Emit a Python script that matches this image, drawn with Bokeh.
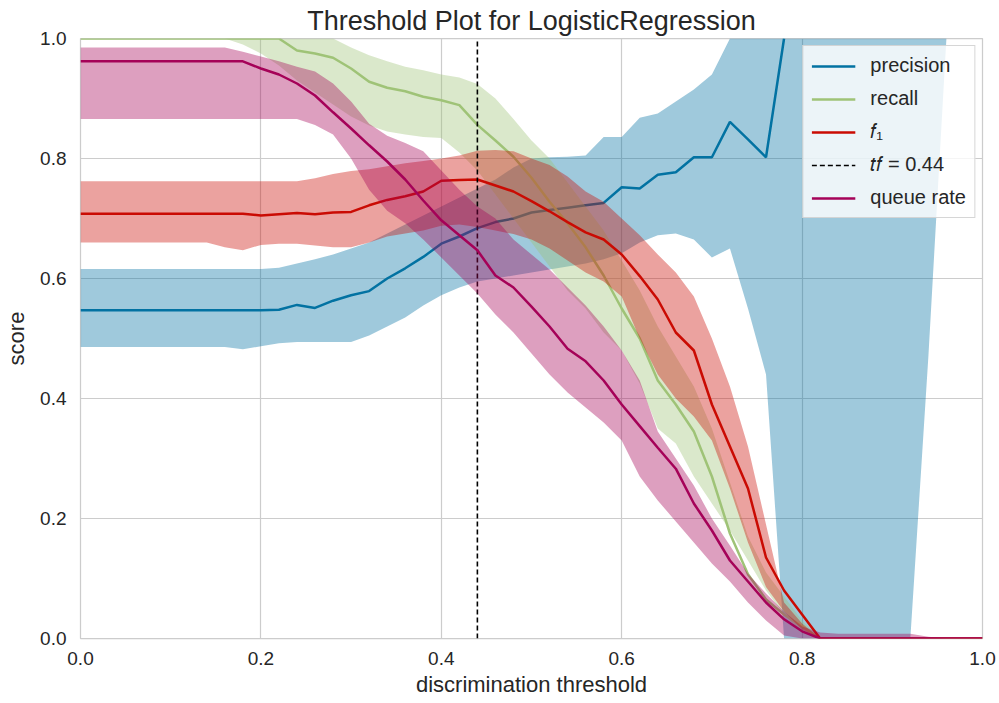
import numpy as np
from bokeh.plotting import figure
from bokeh.models import Range1d, FixedTicker, PrintfTickFormatter
from bokeh.embed import file_html
from bokeh.resources import INLINE

nan = float("nan")

thresholds = [0.00, 0.02, 0.04, 0.06, 0.08, 0.10, 0.12, 0.14, 0.16, 0.18,
              0.20, 0.22, 0.24, 0.26, 0.28, 0.30, 0.32, 0.34, 0.36, 0.38,
              0.40, 0.42, 0.44, 0.46, 0.48, 0.50, 0.52, 0.54, 0.56, 0.58,
              0.60, 0.62, 0.64, 0.66, 0.68, 0.70, 0.72, 0.74, 0.76, 0.78,
              0.80, 0.82, 0.84, 0.86, 0.88, 0.90, 0.92, 0.94, 0.96, 0.98, 1.00]

precision = [0.547, 0.547, 0.547, 0.547, 0.547, 0.547, 0.547, 0.547, 0.547, 0.547,
             0.547, 0.548, 0.556, 0.551, 0.563, 0.572, 0.579, 0.600, 0.617, 0.636,
             0.658, 0.670, 0.684, 0.694, 0.700, 0.710, 0.714, 0.718, 0.722, 0.726,
             0.752, 0.750, 0.773, 0.777, 0.802, 0.802, 0.861, 0.832, 0.802, 1.000,
             nan, nan, nan, nan, nan, nan, nan, nan, nan, nan, nan]
precision_lo = [0.486, 0.486, 0.486, 0.486, 0.486, 0.486, 0.486, 0.486, 0.486, 0.482,
                0.487, 0.492, 0.494, 0.494, 0.494, 0.494, 0.505, 0.520, 0.535, 0.555,
                0.572, 0.585, 0.595, 0.600, 0.605, 0.610, 0.615, 0.620, 0.625, 0.632,
                0.642, 0.660, 0.672, 0.675, 0.665, 0.635, 0.650, 0.550, 0.440, 0.000,
                0.000, 0.000, 0.000, 0.000, 0.000, 0.000, 0.000, 0.470, 1.000, nan, nan]
precision_hi = [0.616, 0.616, 0.616, 0.616, 0.616, 0.616, 0.616, 0.616, 0.616, 0.616,
                0.616, 0.618, 0.625, 0.632, 0.640, 0.650, 0.660, 0.675, 0.690, 0.705,
                0.720, 0.735, 0.750, 0.765, 0.785, 0.800, 0.802, 0.803, 0.805, 0.836,
                0.836, 0.868, 0.875, 0.895, 0.915, 0.940, 1.000, 1.000, 1.000, 1.000,
                1.000, 1.000, 1.000, 1.000, 1.000, 1.000, 1.000, 1.000, 1.000, nan, nan]

recall = [1.000, 1.000, 1.000, 1.000, 1.000, 1.000, 1.000, 1.000, 1.000, 1.000,
          1.000, 1.000, 0.980, 0.975, 0.968, 0.950, 0.928, 0.918, 0.912, 0.903,
          0.897, 0.889, 0.856, 0.830, 0.803, 0.768, 0.728, 0.692, 0.652, 0.605,
          0.550, 0.500, 0.430, 0.390, 0.345, 0.270, 0.175, 0.107, 0.065, 0.040,
          0.020, 0.000, 0.000, 0.000, 0.000, 0.000, 0.000, 0.000, 0.000, 0.000, 0.000]
recall_lo = [1.000, 1.000, 1.000, 1.000, 1.000, 1.000, 1.000, 1.000, 1.000, 0.990,
             0.975, 0.955, 0.930, 0.910, 0.890, 0.870, 0.855, 0.845, 0.840, 0.836,
             0.834, 0.810, 0.780, 0.740, 0.700, 0.660, 0.620, 0.580, 0.550, 0.510,
             0.480, 0.425, 0.350, 0.325, 0.270, 0.225, 0.180, 0.130, 0.080, 0.040,
             0.010, 0.000, 0.000, 0.000, 0.000, 0.000, 0.000, 0.000, 0.000, 0.000, 0.000]
recall_hi = [1.000, 1.000, 1.000, 1.000, 1.000, 1.000, 1.000, 1.000, 1.000, 1.000,
             1.000, 1.000, 1.000, 1.000, 1.000, 0.985, 0.972, 0.962, 0.953, 0.947,
             0.940, 0.935, 0.924, 0.900, 0.866, 0.830, 0.800, 0.760, 0.720, 0.680,
             0.630, 0.580, 0.520, 0.470, 0.420, 0.350, 0.260, 0.170, 0.110, 0.070,
             0.030, 0.000, 0.000, 0.000, 0.000, 0.000, 0.000, 0.000, 0.000, 0.000, 0.000]

f1 = [0.708, 0.708, 0.708, 0.708, 0.708, 0.708, 0.708, 0.708, 0.708, 0.708,
      0.705, 0.707, 0.709, 0.707, 0.710, 0.711, 0.722, 0.731, 0.737, 0.745,
      0.763, 0.764, 0.765, 0.755, 0.745, 0.729, 0.712, 0.694, 0.677, 0.665,
      0.640, 0.604, 0.565, 0.510, 0.480, 0.390, 0.320, 0.250, 0.135, 0.080,
      0.040, 0.000, 0.000, 0.000, 0.000, 0.000, 0.000, 0.000, 0.000, 0.000, 0.000]
f1_lo = [0.660, 0.660, 0.660, 0.660, 0.660, 0.660, 0.660, 0.660, 0.652, 0.647,
         0.656, 0.658, 0.658, 0.655, 0.652, 0.652, 0.660, 0.670, 0.675, 0.680,
         0.688, 0.690, 0.686, 0.680, 0.674, 0.665, 0.650, 0.630, 0.610, 0.595,
         0.570, 0.500, 0.440, 0.400, 0.370, 0.330, 0.250, 0.160, 0.086, 0.045,
         0.015, 0.000, 0.000, 0.000, 0.000, 0.000, 0.000, 0.000, 0.000, 0.000, 0.000]
f1_hi = [0.762, 0.762, 0.762, 0.762, 0.762, 0.762, 0.762, 0.762, 0.762, 0.762,
         0.762, 0.762, 0.762, 0.767, 0.774, 0.779, 0.782, 0.787, 0.792, 0.796,
         0.800, 0.805, 0.813, 0.814, 0.812, 0.800, 0.789, 0.770, 0.745, 0.728,
         0.700, 0.672, 0.640, 0.610, 0.570, 0.500, 0.420, 0.320, 0.190, 0.060,
         0.025, 0.000, 0.000, 0.000, 0.000, 0.000, 0.000, 0.000, 0.000, 0.000, 0.000]

queue_rate = [0.962, 0.962, 0.962, 0.962, 0.962, 0.962, 0.962, 0.962, 0.962, 0.962,
              0.950, 0.940, 0.925, 0.905, 0.877, 0.850, 0.822, 0.795, 0.765, 0.730,
              0.697, 0.672, 0.647, 0.605, 0.585, 0.553, 0.520, 0.483, 0.462, 0.430,
              0.390, 0.354, 0.318, 0.283, 0.225, 0.180, 0.130, 0.095, 0.060, 0.032,
              0.012, 0.000, 0.000, 0.000, 0.000, 0.000, 0.000, 0.000, 0.000, 0.000, 0.000]
queue_lo = [0.866, 0.866, 0.866, 0.866, 0.866, 0.866, 0.866, 0.866, 0.866, 0.866,
            0.866, 0.866, 0.866, 0.856, 0.840, 0.800, 0.748, 0.713, 0.692, 0.665,
            0.635, 0.605, 0.575, 0.540, 0.510, 0.475, 0.440, 0.410, 0.385, 0.360,
            0.330, 0.270, 0.230, 0.195, 0.160, 0.125, 0.095, 0.060, 0.030, 0.005,
            0.000, 0.000, 0.000, 0.000, 0.000, 0.000, 0.000, 0.000, 0.000, 0.000, 0.000]
queue_hi = [0.985, 0.985, 0.985, 0.985, 0.985, 0.985, 0.985, 0.985, 0.985, 0.978,
            0.970, 0.962, 0.953, 0.945, 0.925, 0.895, 0.858, 0.838, 0.826, 0.812,
            0.780, 0.748, 0.720, 0.700, 0.665, 0.640, 0.615, 0.585, 0.555, 0.520,
            0.480, 0.430, 0.345, 0.300, 0.255, 0.200, 0.155, 0.108, 0.075, 0.045,
            0.020, 0.010, 0.008, 0.008, 0.008, 0.008, 0.008, 0.003, 0.000, 0.000, 0.000]

series = [
    ("precision", precision, precision_lo, precision_hi, "#0272a2"),
    ("recall", recall, recall_lo, recall_hi, "#9fc377"),
    ("\U0001D453\u2081", f1, f1_lo, f1_hi, "#ca0b03"),
    ("queue rate", queue_rate, queue_lo, queue_hi, "#a50258"),
]

t = np.array(thresholds, dtype=float)
f1_arr = np.array(f1, dtype=float)
best_t = float(t[int(np.nanargmax(f1_arr))])

FONT = "Liberation Sans"
TXT = "#262626"

p = figure(width=999, height=703, x_range=Range1d(0, 1), y_range=Range1d(0, 1),
           output_backend="svg", toolbar_location=None,
           title="Threshold Plot for LogisticRegression")
p.min_border_left = 80
p.min_border_right = 17
p.min_border_top = 38
p.min_border_bottom = 65
p.background_fill_color = "white"
p.border_fill_color = "white"
p.outline_line_color = "#cccccc"
p.outline_line_width = 1.25

p.title.align = "center"
p.title.text_font = FONT
p.title.text_font_size = "27px"
p.title.text_font_style = "normal"
p.title.text_color = TXT
p.title.standoff = 5

ticks = [0.0, 0.2, 0.4, 0.6, 0.8, 1.0]
for ax in (p.xaxis[0], p.yaxis[0]):
    ax.ticker = FixedTicker(ticks=ticks)
    ax.formatter = PrintfTickFormatter(format="%.1f")
    ax.axis_line_color = None
    ax.major_tick_line_color = None
    ax.minor_tick_line_color = None
    ax.major_tick_out = 0
    ax.major_tick_in = 0
    ax.major_label_text_font = FONT
    ax.major_label_text_font_size = "19px"
    ax.major_label_text_color = TXT
    ax.axis_label_text_font = FONT
    ax.axis_label_text_font_size = "22px"
    ax.axis_label_text_font_style = "normal"
    ax.axis_label_text_color = TXT
p.xaxis.axis_label = "discrimination threshold"
p.yaxis.axis_label = "score"
p.xaxis.major_label_standoff = 13
p.xaxis.axis_label_standoff = 4
p.yaxis.major_label_standoff = 14
p.yaxis.axis_label_standoff = 8

p.xgrid.ticker = FixedTicker(ticks=ticks)
p.ygrid.ticker = FixedTicker(ticks=ticks)
p.grid.grid_line_color = "#cccccc"
p.grid.grid_line_width = 1.2

def draw(name, med, lo, hi, color):
    lo_a = np.array(lo, dtype=float)
    hi_a = np.array(hi, dtype=float)
    m = ~(np.isnan(lo_a) | np.isnan(hi_a))
    p.varea(x=t[m], y1=lo_a[m], y2=hi_a[m], fill_color=color, fill_alpha=0.38)
    p.line(x=t, y=np.array(med, dtype=float), line_color=color, line_width=2.5,
           legend_label=name)

for i, (name, med, lo, hi, color) in enumerate(series):
    draw(name, med, lo, hi, color)
    if i == 2:
        p.line(x=[best_t, best_t], y=[ticks[0], ticks[-1]], line_color="black",
               line_width=1.6, line_dash="5 3",
               legend_label="\U0001D461\U0001D453 = %.2f" % best_t)

lg = p.legend[0]
lg.location = "top_right"
lg.margin = 7
lg.padding = 8
lg.spacing = 10
lg.glyph_width = 44
lg.glyph_height = 20
lg.label_height = 20
lg.label_standoff = 15
lg.label_text_font = FONT
lg.label_text_font_size = "20px"
lg.label_text_color = TXT
lg.background_fill_color = "white"
lg.background_fill_alpha = 0.8
lg.border_line_color = "#cccccc"
lg.border_line_alpha = 0.8
lg.click_policy = "none"

open("out.html", "w").write(file_html(p, INLINE))
